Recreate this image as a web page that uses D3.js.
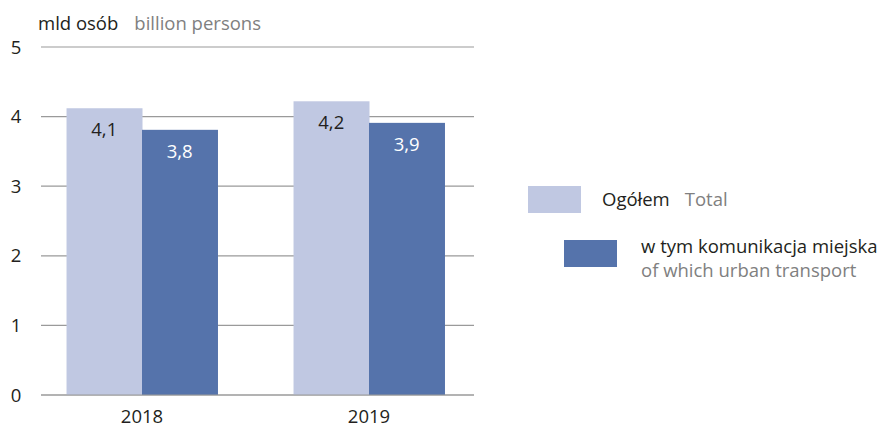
<!DOCTYPE html>
<html><head><meta charset="utf-8">
<script src="https://cdn.jsdelivr.net/npm/d3@7"></script>
<style>
body{margin:0;background:#fff;}
text{font-family:"Open Sans","Noto Sans",sans-serif;}
</style></head>
<body><svg id="c" width="889" height="429"></svg>
<script>
const categories = ["2018","2019"];
const seriesNames = ["Ogółem","w tym komunikacja miejska"];
const seriesNamesEn = ["Total","of which urban transport"];
const totalValues = [4.12, 4.22];
const urbanValues = [3.81, 3.91];
const valueLabels = [["4,1","3,8"],["4,2","3,9"]];
const yTicks = [0,1,2,3,4,5];
const colors = ["#c0c8e2","#5573ab"];

const FS = 18.5;
const svg = d3.select("#c");
const y = d3.scaleLinear().domain([0,5]).range([395,47]);
const x = d3.scaleBand().domain(categories).range([28.5,482.5]).paddingInner(0.335).paddingOuter(0.1675);
const xs = d3.scaleBand().domain([0,1]).range([0,x.bandwidth()]);

// grid
svg.append("g").selectAll("line").data(yTicks).join("line")
  .attr("x1",41).attr("x2",474).attr("y1",d=>y(d)).attr("y2",d=>y(d))
  .attr("stroke","#9a9a9a").attr("stroke-width",1.2);
svg.append("g").selectAll("text").data(yTicks).join("text")
  .attr("x",16).attr("y",d=>y(d)).attr("dy","0.36em").attr("text-anchor","middle")
  .attr("font-size",FS).attr("fill","#231f20").text(d=>d);

const data = categories.map((c,i)=>({cat:c, vals:[totalValues[i],urbanValues[i]], labels:valueLabels[i]}));
const g = svg.append("g").selectAll("g").data(data).join("g")
  .attr("transform",d=>`translate(${x(d.cat)},0)`);
g.selectAll("rect").data(d=>d.vals.map((v,j)=>({v,j}))).join("rect")
  .attr("x",d=>xs(d.j)).attr("width",xs.bandwidth()+0.5)
  .attr("y",d=>y(d.v)).attr("height",d=>y(0)-y(d.v)).attr("fill",d=>colors[d.j]);
g.selectAll("text.v").data(d=>d.vals.map((v,j)=>({v,j,l:d.labels[j]}))).join("text")
  .attr("class","v").attr("x",d=>xs(d.j)+xs.bandwidth()/2).attr("y",d=>y(d.v)+28)
  .attr("text-anchor","middle").attr("font-size",FS)
  .attr("fill",d=>d.j===0?"#231f20":"#ffffff").text(d=>d.l);

// baseline
svg.append("line").attr("x1",41).attr("x2",474).attr("y1",y(0)).attr("y2",y(0))
  .attr("stroke","#9a9a9a").attr("stroke-width",1.2);

svg.selectAll("text.cat").data(categories).join("text").attr("class","cat")
  .attr("x",d=>x(d)+x.bandwidth()/2).attr("y",423).attr("text-anchor","middle")
  .attr("font-size",FS).attr("fill","#231f20").text(d=>d);

// unit title
const t = svg.append("text").attr("x",38).attr("y",30).attr("font-size",FS);
t.append("tspan").attr("fill","#231f20").text("mld osób");
t.append("tspan").attr("fill","#808080").attr("dx",16).text("billion persons");

// legend
const leg = [
  {rx:528, ry:186, tx:602, ty:206, i:0, inline:true},
  {rx:564, ry:240, tx:641, ty:253, i:1, inline:false}
];
leg.forEach(l=>{
  svg.append("rect").attr("x",l.rx).attr("y",l.ry).attr("width",53).attr("height",27).attr("fill",colors[l.i]);
  if(l.inline){
    const tt = svg.append("text").attr("x",l.tx).attr("y",l.ty).attr("font-size",FS);
    tt.append("tspan").attr("fill","#231f20").text(seriesNames[l.i]);
    tt.append("tspan").attr("fill","#808080").attr("dx",15).text(seriesNamesEn[l.i]);
  } else {
    svg.append("text").attr("x",l.tx).attr("y",l.ty).attr("font-size",FS).attr("fill","#231f20").text(seriesNames[l.i]);
    svg.append("text").attr("x",l.tx).attr("y",l.ty+24).attr("font-size",FS).attr("fill","#808080").text(seriesNamesEn[l.i]);
  }
});
</script></body></html>
